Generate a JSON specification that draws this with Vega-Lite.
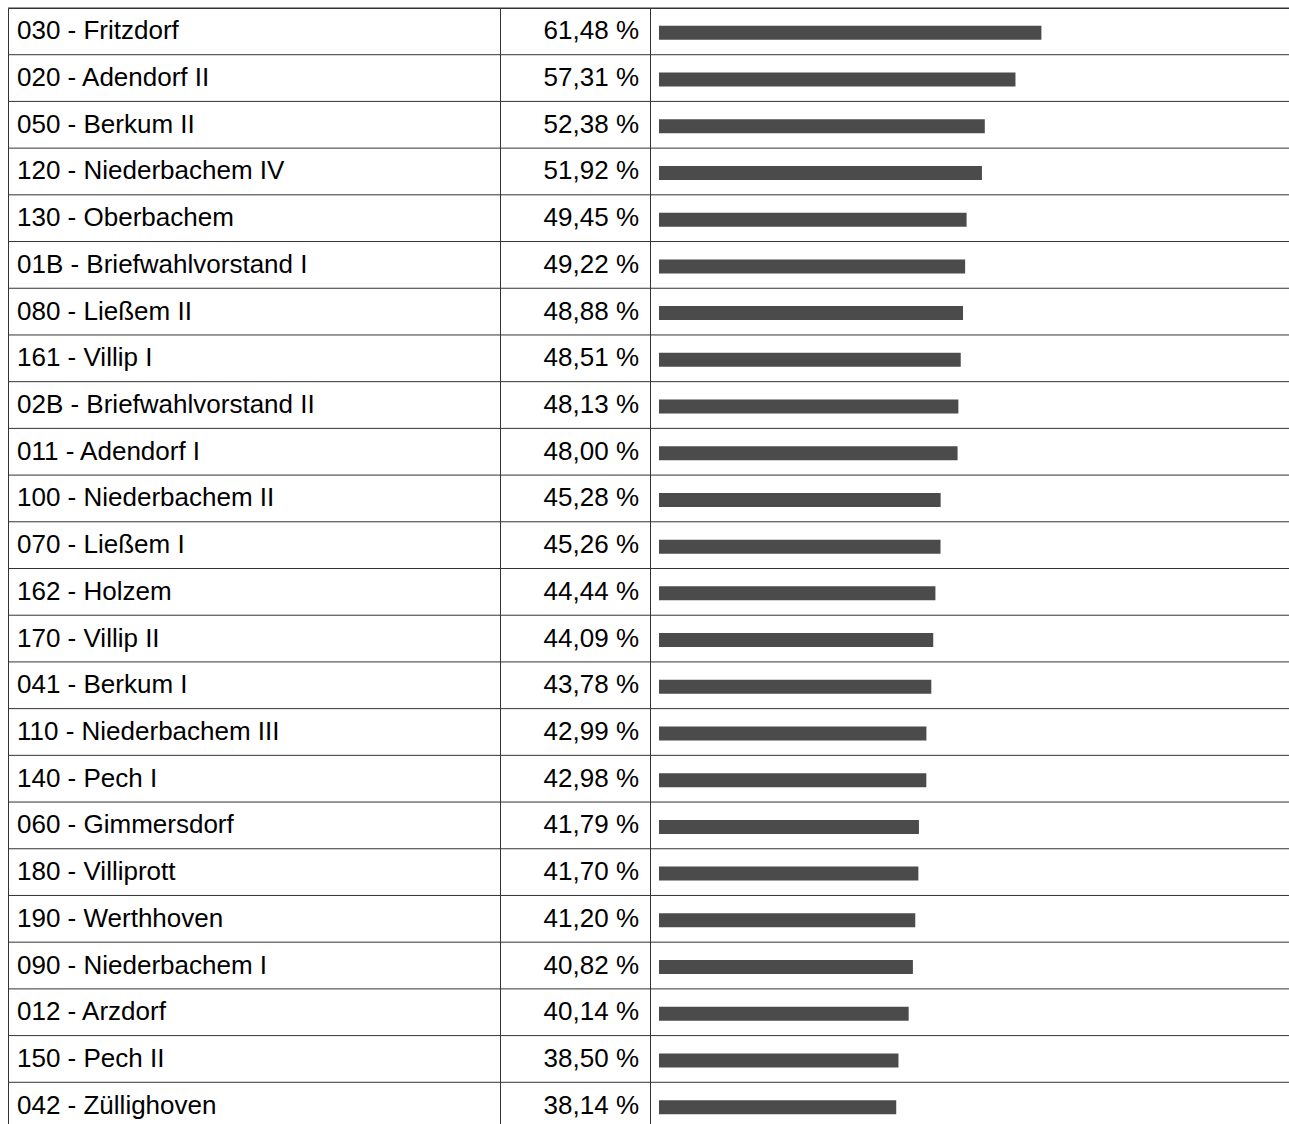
{
  "$schema": "https://vega.github.io/schema/vega-lite/v6.json",
  "padding": {"left": 7, "top": 7, "right": 0, "bottom": 0},
  "background": "white",
  "spacing": 0,
  "bounds": "flush",
  "data": {"values": [
    {"name": "030 - Fritzdorf", "value": 61.48, "label": "61,48 %"},
    {"name": "020 - Adendorf II", "value": 57.31, "label": "57,31 %"},
    {"name": "050 - Berkum II", "value": 52.38, "label": "52,38 %"},
    {"name": "120 - Niederbachem IV", "value": 51.92, "label": "51,92 %"},
    {"name": "130 - Oberbachem", "value": 49.45, "label": "49,45 %"},
    {"name": "01B - Briefwahlvorstand I", "value": 49.22, "label": "49,22 %"},
    {"name": "080 - Ließem II", "value": 48.88, "label": "48,88 %"},
    {"name": "161 - Villip I", "value": 48.51, "label": "48,51 %"},
    {"name": "02B - Briefwahlvorstand II", "value": 48.13, "label": "48,13 %"},
    {"name": "011 - Adendorf I", "value": 48.00, "label": "48,00 %"},
    {"name": "100 - Niederbachem II", "value": 45.28, "label": "45,28 %"},
    {"name": "070 - Ließem I", "value": 45.26, "label": "45,26 %"},
    {"name": "162 - Holzem", "value": 44.44, "label": "44,44 %"},
    {"name": "170 - Villip II", "value": 44.09, "label": "44,09 %"},
    {"name": "041 - Berkum I", "value": 43.78, "label": "43,78 %"},
    {"name": "110 - Niederbachem III", "value": 42.99, "label": "42,99 %"},
    {"name": "140 - Pech I", "value": 42.98, "label": "42,98 %"},
    {"name": "060 - Gimmersdorf", "value": 41.79, "label": "41,79 %"},
    {"name": "180 - Villiprott", "value": 41.70, "label": "41,70 %"},
    {"name": "190 - Werthhoven", "value": 41.20, "label": "41,20 %"},
    {"name": "090 - Niederbachem I", "value": 40.82, "label": "40,82 %"},
    {"name": "012 - Arzdorf", "value": 40.14, "label": "40,14 %"},
    {"name": "150 - Pech II", "value": 38.50, "label": "38,50 %"},
    {"name": "042 - Züllighoven", "value": 38.14, "label": "38,14 %"}
  ]},
  "config": {
    "view": {"stroke": "#333", "strokeWidth": 1},
    "concat": {"spacing": 0},
    "font": "Liberation Sans"
  },
  "hconcat": [
    {
      "width": 492, "height": 1121,
      "encoding": {
        "y": {"field": "name", "type": "nominal", "sort": null, "axis": null, "scale": {"type": "band", "paddingInner": 0, "paddingOuter": 0}}
      },
      "layer": [
        {"mark": {"type": "rule", "color": "#333", "strokeWidth": 1},
         "encoding": {"y": {"field": "name", "type": "nominal", "sort": null, "bandPosition": 0, "axis": null}}},
        {"mark": {"type": "text", "align": "left", "baseline": "alphabetic", "dy": 8, "fontSize": 26, "font": "Liberation Sans", "color": "#000"},
         "encoding": {
           "x": {"datum": 0, "type": "quantitative", "scale": {"domain": [0, 1], "range": [9, 492]}, "axis": null},
           "text": {"field": "name"}
         }}
      ]
    },
    {
      "width": 150, "height": 1121,
      "encoding": {
        "y": {"field": "name", "type": "nominal", "sort": null, "axis": null, "scale": {"type": "band", "paddingInner": 0, "paddingOuter": 0}}
      },
      "layer": [
        {"mark": {"type": "rule", "color": "#333", "strokeWidth": 1},
         "encoding": {"y": {"field": "name", "type": "nominal", "sort": null, "bandPosition": 0, "axis": null}}},
        {"mark": {"type": "text", "align": "right", "baseline": "alphabetic", "dy": 8, "fontSize": 26, "font": "Liberation Sans", "color": "#000"},
         "encoding": {
           "x": {"datum": 1, "type": "quantitative", "scale": {"domain": [0, 1], "range": [0, 139]}, "axis": null},
           "text": {"field": "label"}
         }}
      ]
    },
    {
      "width": 640, "height": 1121,
      "encoding": {
        "y": {"field": "name", "type": "nominal", "sort": null, "axis": null, "scale": {"type": "band", "paddingInner": 0, "paddingOuter": 0}}
      },
      "layer": [
        {"mark": {"type": "rule", "color": "#333", "strokeWidth": 1},
         "encoding": {"y": {"field": "name", "type": "nominal", "sort": null, "bandPosition": 0, "axis": null}}},
        {"mark": {"type": "bar", "height": 14, "yOffset": 1.5, "color": "#4b4b4b"},
         "encoding": {
           "x": {"field": "value", "type": "quantitative", "scale": {"domain": [0, 100], "range": [9, 631]}, "axis": null}
         }}
      ]
    }
  ]
}
